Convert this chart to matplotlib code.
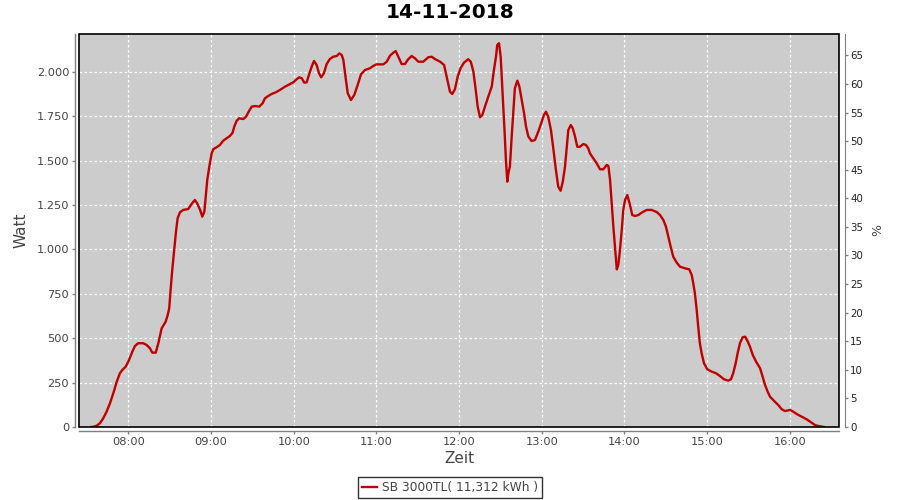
import matplotlib
matplotlib.use("Agg")
import matplotlib.pyplot as plt
from matplotlib.ticker import FixedLocator, FuncFormatter
from matplotlib.patches import Rectangle

title = "14-11-2018"
series_name = "SB 3000TL( 11,312 kWh )"

# time in minutes after midnight
minutes = [453.2, 453.7, 456.9, 459.3, 461.7, 464.1, 466.6, 469.0, 471.5, 473.8, 475.5, 478.0,
           480.4, 482.8, 484.7, 487.1, 490.7, 493.2, 495.6, 497.3, 499.8, 501.7, 504.1, 507.0,
           508.5, 509.6, 510.6, 511.8, 513.2, 514.5, 515.7, 517.4, 519.8, 523.4, 525.8, 528.2,
           529.9, 532.0, 533.6, 535.1, 536.1, 537.2, 538.7, 540.4, 541.6, 544.0, 546.4, 548.8,
           551.3, 553.7, 555.6, 556.8, 558.5, 560.2, 563.4, 565.3, 567.7, 569.5, 571.9, 575.0,
           577.4, 579.1, 581.5, 583.9, 587.1, 590.0, 593.6, 597.3, 599.7, 602.1, 604.0, 605.8,
           607.6, 609.4, 611.0, 613.0, 614.7, 616.6, 618.3, 619.9, 621.9, 623.9, 626.2, 628.6,
           631.2, 633.1, 634.8, 636.0, 637.7, 639.2, 641.5, 643.9, 646.4, 648.8, 651.7, 655.3,
           657.7, 660.1, 665.0, 667.5, 669.9, 672.3, 674.0, 675.9, 678.3, 680.7, 683.1, 685.6,
           688.0, 690.4, 694.0, 697.7, 700.1, 702.5, 706.2, 709.1, 711.0, 713.4, 715.1, 717.0,
           719.0, 721.1, 723.5, 726.6, 728.5, 730.4, 732.1, 733.5, 735.2, 736.9, 738.8, 741.2,
           743.7, 745.3, 746.8, 747.7, 749.0, 750.2, 751.1, 752.1, 753.1, 754.0, 755.0, 756.0,
           756.9, 758.2, 759.3, 760.5, 762.3, 763.8, 765.5, 767.2, 768.6, 770.3, 772.7, 775.1,
           777.5, 780.0, 781.6, 783.1, 784.7, 786.7, 788.4, 790.3, 792.0, 793.7, 795.3, 796.9,
           798.2, 799.3, 801.1, 802.5, 804.2, 805.8, 807.8, 810.2, 812.1, 813.8, 815.0, 817.4,
           819.9, 822.3, 824.7, 827.2, 828.4, 829.6, 830.8, 832.0, 833.2, 834.5, 835.6, 836.8,
           838.1, 839.2, 840.5, 842.1, 844.1, 845.7, 847.7, 850.1, 852.5, 856.2, 859.8, 863.5,
           865.9, 868.3, 870.2, 871.9, 873.6, 875.5, 878.0, 880.4, 884.0, 887.1, 888.9, 890.0,
           891.2, 892.5, 893.6, 894.8, 896.1, 897.8, 900.2, 903.4, 906.5, 909.4, 912.3, 915.4,
           917.4, 919.0, 920.8, 922.2, 923.9, 925.8, 927.6, 929.6, 931.2, 933.2, 935.6, 938.5,
           940.4, 942.1, 944.0, 945.7, 949.3, 951.7, 954.2, 956.6, 960.3, 962.7, 965.1, 968.7,
           972.4, 976.0, 978.4, 980.8, 984.9]

watt = [0, 0, 7, 21, 49, 86, 134, 190, 255, 303, 321, 340,
        377, 424, 456, 472, 472, 462, 443, 419, 419, 472, 556, 593,
        631, 669, 772, 885, 997, 1100, 1176, 1210, 1223, 1228, 1256, 1279,
        1260, 1223, 1185, 1213, 1297, 1392, 1467, 1542, 1565, 1576, 1589, 1613,
        1627, 1640, 1658, 1692, 1724, 1739, 1735, 1748, 1782, 1805, 1808, 1805,
        1824, 1852, 1865, 1876, 1886, 1899, 1917, 1932, 1942, 1959, 1970, 1965,
        1940, 1942, 1983, 2030, 2062, 2040, 1993, 1970, 1993, 2045, 2073, 2086,
        2090, 2105, 2096, 2068, 1965, 1880, 1842, 1870, 1927, 1987, 2011, 2021,
        2034, 2043, 2043, 2058, 2092, 2109, 2118, 2086, 2045, 2045, 2072, 2090,
        2077, 2058, 2058, 2083, 2086, 2073, 2058, 2040, 1974, 1889, 1876, 1903,
        1974, 2021, 2052, 2072, 2058, 2002, 1899, 1805, 1745, 1758, 1805, 1861,
        1917, 2011, 2086, 2152, 2162, 2086, 1955, 1805, 1655, 1504, 1382, 1438,
        1467, 1636, 1767, 1908, 1951, 1917, 1842, 1767, 1692, 1636, 1611, 1617,
        1664, 1720, 1758, 1776, 1748, 1673, 1570, 1448, 1354, 1331, 1382, 1467,
        1579, 1673, 1701, 1683, 1636, 1579, 1579, 1594, 1589, 1570, 1542, 1514,
        1486, 1452, 1452, 1476, 1470, 1392, 1260, 1128, 1016, 888, 913, 997,
        1110, 1223, 1279, 1307, 1251, 1194, 1189, 1194, 1207, 1223, 1223, 1211,
        1194, 1166, 1128, 1072, 1016, 959, 926, 903, 894, 888, 856, 810,
        753, 659, 565, 472, 415, 359, 325, 312, 303, 287, 269, 261,
        269, 303, 359, 415, 472, 505, 509, 481, 452, 406, 368, 331,
        283, 237, 199, 171, 142, 124, 100, 90, 96, 86, 73, 58,
        43, 24, 11, 6, 0]

x_ticks = [480, 540, 600, 660, 720, 780, 840, 900, 960]
watt_ticks = [0, 250, 500, 750, 1000, 1250, 1500, 1750, 2000]
pct_ticks = [0, 5, 10, 15, 20, 25, 30, 35, 40, 45, 50, 55, 60, 65]

plt.rcParams['font.family'] = ['DejaVu Sans']
fig = plt.figure(figsize=(9, 5), dpi=100)
fig.patch.set_facecolor('white')

L, R, B, T = 79 / 900, 839 / 900, (500 - 427) / 500, (500 - 34) / 500
ax = fig.add_axes([L, B, R - L, T - B])
ax.set_facecolor('#cccccc')

line_color = '#c00000'
axis_grey = '#808080'
text_grey = '#444444'

ax.plot(minutes, watt, color=line_color, lw=1.7, solid_joinstyle='round', zorder=3,
        label=series_name)

ax.set_xlim(444.1, 995.8)
ax.set_ylim(0, 2214)

ax.xaxis.set_major_locator(FixedLocator(x_ticks))
ax.xaxis.set_major_formatter(FuncFormatter(lambda v, p: f"{int(v // 60):02d}:{int(v % 60):02d}"))
ax.yaxis.set_major_locator(FixedLocator(watt_ticks))
ax.yaxis.set_major_formatter(FuncFormatter(lambda v, p: f"{int(v):,}".replace(',', '.')))

ax.grid(True, color='white', linestyle=(0, (2, 2)), linewidth=0.9)
ax.set_axisbelow(True)

for s in ['top', 'right']:
    ax.spines[s].set_visible(False)
for s in ['left', 'bottom']:
    ax.spines[s].set_position(('outward', 3))
    ax.spines[s].set_color(axis_grey)
    ax.spines[s].set_linewidth(1)

ax.tick_params(axis='both', colors=axis_grey, labelcolor=text_grey, labelsize=8.2,
               length=2, width=1, direction='out', pad=2)

ax.add_patch(Rectangle((0, 0), 1, 1, transform=ax.transAxes, fill=False,
                       edgecolor='black', lw=1.2, zorder=5, clip_on=False))

ax.set_ylabel("Watt", fontsize=11, color=text_grey, labelpad=6)
ax.set_xlabel("Zeit", fontsize=11, color=text_grey, labelpad=3)

ax2 = ax.twinx()
ax2.set_ylim(0, 68.73)
ax2.yaxis.set_major_locator(FixedLocator(pct_ticks))
for s in ['top', 'left', 'bottom']:
    ax2.spines[s].set_visible(False)
ax2.spines['right'].set_position(('outward', 4))
ax2.spines['right'].set_color(axis_grey)
ax2.tick_params(axis='y', colors=axis_grey, labelcolor='#222222', labelsize=7.4,
                length=2, width=1, direction='out', pad=2)
ax2.set_ylabel("%", fontsize=9, color=text_grey, labelpad=6)

fig.text(0.5, 0.974, title, ha='center', va='center', fontsize=14.5, fontweight='bold',
         color='black')

leg = fig.legend(loc='center', bbox_to_anchor=(0.4997, 0.025), frameon=True, fancybox=False,
                 fontsize=8.8, handlelength=1.3, handletextpad=0.35, borderpad=0.3,
                 borderaxespad=0, labelcolor=text_grey)
leg.get_frame().set_edgecolor('black')
leg.get_frame().set_linewidth(1)

fig.savefig("out.png", dpi=100, facecolor='white')
